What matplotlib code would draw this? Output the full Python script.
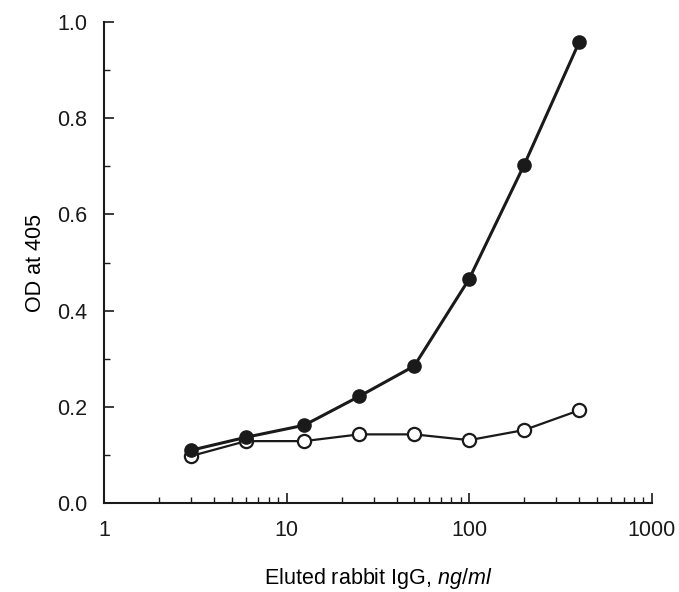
import numpy as np
import matplotlib.pyplot as plt
from matplotlib.ticker import LogLocator, NullFormatter, MultipleLocator

plt.rcParams['font.family'] = ['Liberation Sans', 'DejaVu Sans']
plt.rcParams['mathtext.fontset'] = 'custom'
plt.rcParams['mathtext.rm'] = 'Liberation Sans'
plt.rcParams['mathtext.it'] = 'Liberation Sans:italic'

# concentrations (ng/ml) and OD readings
conc = [3, 6, 12.5, 25, 50, 100, 200, 400]
od_filled = [0.11, 0.137, 0.162, 0.222, 0.285, 0.466, 0.703, 0.958]
od_open = [0.098, 0.129, 0.129, 0.143, 0.143, 0.131, 0.152, 0.193]

fig = plt.figure(figsize=(6.79, 5.92), dpi=100)
ax = fig.add_axes([0.153, 0.150, 0.807, 0.813])

ax.plot(conc, od_open, '-o', color='#1a1a1a', lw=1.6, ms=9.5,
        mfc='white', mec='#1a1a1a', mew=1.6, zorder=3)
ax.plot(conc, od_filled, '-o', color='#1a1a1a', lw=2.2, ms=9.5,
        mfc='#1a1a1a', mec='#1a1a1a', zorder=4)

ax.set_xscale('log')
ax.set_xlim(1, 1000)
ax.set_ylim(0, 1.0)
ax.set_xticks([1, 10, 100, 1000])
ax.set_xticklabels(['1', '10', '100', '1000'])
ax.xaxis.set_minor_locator(LogLocator(base=10, subs=np.arange(2, 10)))
ax.xaxis.set_minor_formatter(NullFormatter())
ax.set_yticks([0.0, 0.2, 0.4, 0.6, 0.8, 1.0])
ax.set_yticklabels(['0.0', '0.2', '0.4', '0.6', '0.8', '1.0'])
ax.yaxis.set_minor_locator(MultipleLocator(0.1))

for s in ['top', 'right']:
    ax.spines[s].set_visible(False)
for s in ['left', 'bottom']:
    ax.spines[s].set_linewidth(1.5)
    ax.spines[s].set_color('#1a1a1a')

ax.tick_params(which='major', direction='in', length=7, width=1.2,
               labelsize=15.5, pad=12, colors='#1a1a1a')
ax.tick_params(which='minor', direction='in', length=4, width=1.0,
               colors='#1a1a1a')

ax.set_xlabel('Eluted rabbit IgG, $\\it{ng/ml}$', fontsize=15.5, labelpad=18)
ax.set_ylabel('OD at 405', fontsize=15.5, labelpad=8)

fig.savefig('out.png', dpi=100)
